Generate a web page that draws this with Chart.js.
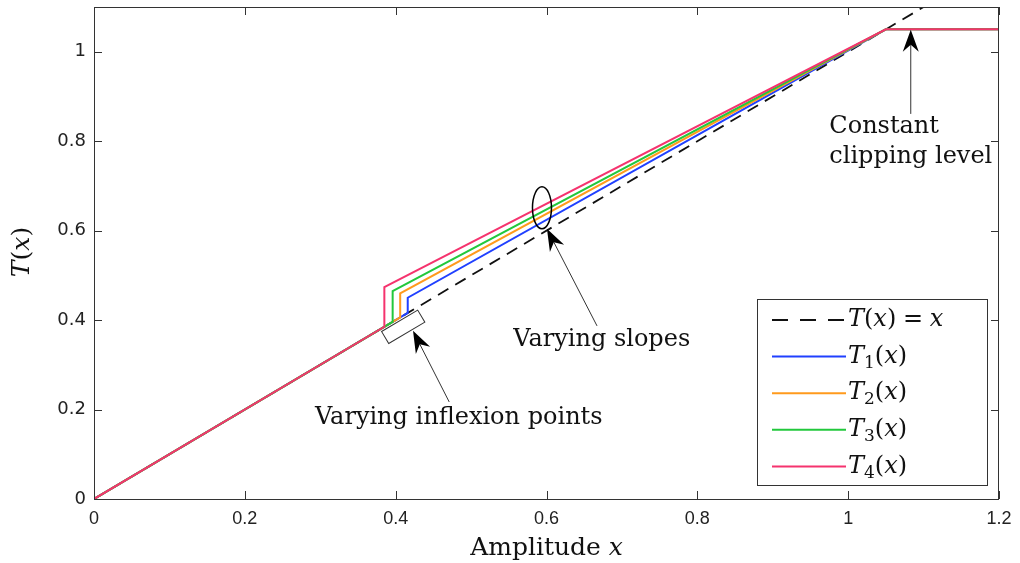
<!DOCTYPE html>
<html>
<head>
<meta charset="utf-8">
<script src="https://cdn.jsdelivr.net/npm/chart.js@4/dist/chart.umd.min.js"></script>
<style>
  html, body { margin: 0; padding: 0; background: #fff; }
</style>
</head>
<body>
<canvas id="clipChart" width="1020" height="563"></canvas>
<script>
// tick labels
const xTicks = [0, 0.2, 0.4, 0.6, 0.8, 1, 1.2];
const yTicks = [0, 0.2, 0.4, 0.6, 0.8, 1];

// reference T(x) = x
const refX = [0, 1.1];
const refY = [0, 1.1];

// clipping curves: follow x up to the inflexion point, jump, then a straight
// line up to the clipping level 1.05
const t1X = [0, 0.416, 0.416, 1.05, 1.2];
const t1Y = [0, 0.416, 0.450, 1.05, 1.05];
const t2X = [0, 0.406, 0.406, 1.05, 1.2];
const t2Y = [0, 0.406, 0.460, 1.05, 1.05];
const t3X = [0, 0.396, 0.396, 1.05, 1.2];
const t3Y = [0, 0.396, 0.465, 1.05, 1.05];
const t4X = [0, 0.385, 0.385, 1.05, 1.2];
const t4Y = [0, 0.385, 0.474, 1.05, 1.05];

const toPoints = (xs, ys) => xs.map((x, i) => ({ x: x, y: ys[i] }));

const serif = "'DejaVu Serif', 'Liberation Serif', serif";

// draws a little math string: letters italic, digits subscript, rest upright
function drawMath(ctx, text, x, y, size) {
    ctx.textBaseline = 'middle';
    ctx.textAlign = 'left';
    for (const c of text) {
        if (c === ' ') { x += size * 0.28; continue; }
        let font = size + 'px ' + serif;
        let dy = 0;
        if (/[A-Za-z]/.test(c)) font = 'italic ' + font;
        if (/\d/.test(c)) { font = Math.round(size * 0.7) + 'px ' + serif; dy = size * 0.28; }
        ctx.font = font;
        ctx.fillText(c, x, y + dy);
        x += ctx.measureText(c).width;
    }
    return x;
}

function mathWidth(ctx, text, size) {
    ctx.save();
    let w = 0;
    for (const c of text) {
        if (c === ' ') { w += size * 0.28; continue; }
        let font = size + 'px ' + serif;
        if (/[A-Za-z]/.test(c)) font = 'italic ' + font;
        if (/\d/.test(c)) font = Math.round(size * 0.7) + 'px ' + serif;
        ctx.font = font;
        w += ctx.measureText(c).width;
    }
    ctx.restore();
    return w;
}

function arrow(ctx, x0, y0, x1, y1) {
    // line from (x0,y0) to tip (x1,y1) with a filled matlab-style head
    const a = Math.atan2(y1 - y0, x1 - x0);
    const len = 22, half = 8, notch = 15;
    ctx.save();
    ctx.strokeStyle = '#333';
    ctx.lineWidth = 1;
    ctx.beginPath();
    ctx.moveTo(x0, y0);
    ctx.lineTo(x1 - Math.cos(a) * notch, y1 - Math.sin(a) * notch);
    ctx.stroke();
    ctx.translate(x1, y1);
    ctx.rotate(a);
    ctx.fillStyle = '#000';
    ctx.beginPath();
    ctx.moveTo(0, 0);
    ctx.lineTo(-len, -half);
    ctx.lineTo(-notch, 0);
    ctx.lineTo(-len, half);
    ctx.closePath();
    ctx.fill();
    ctx.restore();
}

const framePlugin = {
    id: 'frame',
    afterDatasetsDraw(chart) {
        const { ctx, chartArea: a, scales } = chart;
        ctx.save();
        ctx.strokeStyle = '#333';
        ctx.lineWidth = 1;
        ctx.strokeRect(a.left + 0.5, a.top + 0.5, a.right - a.left - 1, a.bottom - a.top);
        ctx.beginPath();
        const tl = 8;
        xTicks.forEach(v => {
            const px = Math.round(scales.x.getPixelForValue(v)) + 0.5;
            ctx.moveTo(px, a.bottom); ctx.lineTo(px, a.bottom - tl);
            ctx.moveTo(px, a.top); ctx.lineTo(px, a.top + tl);
        });
        yTicks.forEach(v => {
            const py = Math.round(scales.y.getPixelForValue(v)) + 0.5;
            ctx.moveTo(a.left, py); ctx.lineTo(a.left + tl, py);
            ctx.moveTo(a.right, py); ctx.lineTo(a.right - tl, py);
        });
        ctx.stroke();
        ctx.restore();
    }
};

const annotationPlugin = {
    id: 'notes',
    afterDraw(chart) {
        const { ctx, scales } = chart;
        const X = v => scales.x.getPixelForValue(v);
        const Y = v => scales.y.getPixelForValue(v);
        const slope = Math.atan2(Y(1) - Y(0), X(1) - X(0));
        ctx.save();
        ctx.fillStyle = '#111';
        ctx.strokeStyle = '#333';

        // box round the inflexion points
        ctx.save();
        ctx.translate(X(0.41), Y(0.385));
        ctx.rotate(slope);
        ctx.lineWidth = 1;
        ctx.strokeRect(-21, -7, 42, 14);
        ctx.restore();
        arrow(ctx, X(0.471), Y(0.217), X(0.423), Y(0.376));
        ctx.font = '24px ' + serif;
        ctx.textAlign = 'left';
        ctx.textBaseline = 'middle';
        ctx.fillText('Varying inflexion points', X(0.293), Y(0.181));

        // ellipse round the slopes
        ctx.lineWidth = 1.5;
        ctx.strokeStyle = '#000';
        ctx.beginPath();
        ctx.ellipse(X(0.594), Y(0.651), 9.5, 21, 0, 0, Math.PI * 2);
        ctx.stroke();
        arrow(ctx, X(0.667), Y(0.387), X(0.6006), Y(0.604));
        ctx.font = '24px ' + serif;
        ctx.fillText('Varying slopes', X(0.556), Y(0.356));

        // clipping level
        arrow(ctx, X(1.083), Y(0.861), X(1.083), Y(1.049));
        ctx.font = '24px ' + serif;
        ctx.fillText('Constant', X(0.975), Y(0.832));
        ctx.fillText('clipping level', X(0.975), Y(0.765));

        // axis titles
        const a = chart.chartArea;
        ctx.font = '25px ' + serif;
        const amp = 'Amplitude ';
        const wAmp = ctx.measureText(amp).width;
        const wx = mathWidth(ctx, 'x', 25);
        let sx = (a.left + a.right) / 2 - (wAmp + wx) / 2;
        ctx.font = '25px ' + serif;
        ctx.fillText(amp, sx, 548);
        drawMath(ctx, 'x', sx + wAmp, 548, 25);

        ctx.save();
        ctx.translate(22, 252);
        ctx.rotate(-Math.PI / 2);
        const wt = mathWidth(ctx, 'T(x)', 25);
        drawMath(ctx, 'T(x)', -wt / 2, 0, 25);
        ctx.restore();

        // legend
        const bw = 230, bh = 186;
        const bx = a.right - 12 - bw, by = a.bottom - 14 - bh;
        ctx.fillStyle = '#fff';
        ctx.fillRect(bx, by, bw, bh);
        ctx.strokeStyle = '#333';
        ctx.lineWidth = 1;
        ctx.strokeRect(Math.round(bx) + 0.5, Math.round(by) + 0.5, bw, bh);
        chart.data.datasets.forEach((ds, i) => {
            const ry = by + 21 + i * 36.6;
            ctx.save();
            ctx.strokeStyle = ds.borderColor;
            ctx.lineWidth = ds.borderWidth;
            ctx.setLineDash(ds.borderDash ? [16, 12] : []);
            ctx.beginPath();
            ctx.moveTo(bx + 15, ry);
            ctx.lineTo(bx + 89, ry);
            ctx.stroke();
            ctx.restore();
            ctx.fillStyle = '#111';
            drawMath(ctx, ds.label, bx + 91, ry, 24);
        });
        ctx.restore();
    }
};

new Chart(document.getElementById('clipChart'), {
    type: 'line',
    data: {
        datasets: [
            { label: 'T(x) = x', data: toPoints(refX, refY), borderColor: '#111', borderWidth: 1.8, borderDash: [12, 8], order: 4 },
            { label: 'T1(x)', data: toPoints(t1X, t1Y), borderColor: '#2040ff', borderWidth: 2, order: 3 },
            { label: 'T2(x)', data: toPoints(t2X, t2Y), borderColor: '#ff9a1c', borderWidth: 2, order: 2 },
            { label: 'T3(x)', data: toPoints(t3X, t3Y), borderColor: '#22c83c', borderWidth: 2, order: 1 },
            { label: 'T4(x)', data: toPoints(t4X, t4Y), borderColor: '#f5336e', borderWidth: 2, order: 0 }
        ]
    },
    options: {
        responsive: false,
        animation: false,
        layout: { padding: { top: 7, right: 21, left: 0, bottom: 0 } },
        elements: { point: { radius: 0 }, line: { tension: 0 } },
        plugins: { legend: { display: false }, tooltip: { enabled: false } },
        scales: {
            x: {
                type: 'linear',
                min: 0,
                max: 1.2,
                afterBuildTicks: s => { s.ticks = xTicks.map(v => ({ value: v })); },
                afterFit: s => { s.height = 64; s.paddingLeft = 0; s.paddingRight = 0; },
                grid: { display: false, drawTicks: false },
                border: { display: false },
                ticks: {
                    padding: 9,
                    color: '#222',
                    maxRotation: 0,
                    font: { family: "'Liberation Sans Narrow', 'Liberation Sans', sans-serif", size: 18 },
                    callback: v => String(+v.toFixed(1))
                }
            },
            y: {
                type: 'linear',
                min: 0,
                max: 1.1,
                afterBuildTicks: s => { s.ticks = yTicks.map(v => ({ value: v })); },
                afterFit: s => { s.width = 94; s.paddingTop = 0; s.paddingBottom = 0; },
                grid: { display: false, drawTicks: false },
                border: { display: false },
                ticks: {
                    padding: 8,
                    color: '#222',
                    font: { family: "'DejaVu Sans', sans-serif", size: 18 },
                    callback: v => String(+v.toFixed(1))
                }
            }
        }
    },
    plugins: [framePlugin, annotationPlugin]
});
</script>
</body>
</html>
